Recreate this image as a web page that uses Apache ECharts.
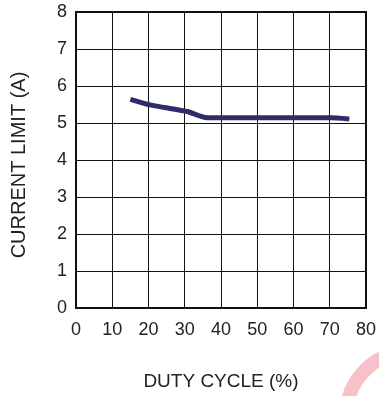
<!DOCTYPE html>
<html><head><meta charset="utf-8">
<script src="https://cdn.jsdelivr.net/npm/echarts@6/dist/echarts.min.js"></script>
<style>html,body{margin:0;padding:0;background:#fff}#c{width:379px;height:396px}</style>
</head><body><div id="c"></div>
<script>
const dutyCycle = [15, 20.4, 24.4, 30.7, 36.1, 45, 55, 65, 70.2, 75.4];
const currentLimit = [5.64, 5.49, 5.42, 5.31, 5.14, 5.14, 5.14, 5.14, 5.14, 5.11];
const xTicks = [0, 10, 20, 30, 40, 50, 60, 70, 80];
const yTicks = [0, 1, 2, 3, 4, 5, 6, 7, 8];

const chart = echarts.init(document.getElementById('c'), null, {renderer: 'canvas'});
const font = 'Liberation Sans, Arial, sans-serif';
chart.setOption({
  animation: false,
  grid: {left: 76, right: 6, top: 12, bottom: 88, show: true, borderColor: '#111', borderWidth: 2},
  xAxis: {
    type: 'value', min: xTicks[0], max: xTicks[xTicks.length - 1], interval: 10,
    name: 'DUTY CYCLE (%)', nameLocation: 'middle', nameGap: 64,
    nameTextStyle: {fontFamily: font, fontSize: 19, color: '#222'},
    axisLine: {show: false}, axisTick: {show: false},
    axisLabel: {fontFamily: font, fontSize: 18, color: '#222', margin: 13},
    splitLine: {show: true, lineStyle: {color: '#111', width: 1}}
  },
  yAxis: {
    type: 'value', min: yTicks[0], max: yTicks[yTicks.length - 1], interval: 1,
    name: 'CURRENT LIMIT (A)', nameLocation: 'middle', nameGap: 47,
    nameTextStyle: {fontFamily: font, fontSize: 20, color: '#222', padding: [0, 10, 0, 0]},
    axisLine: {show: false}, axisTick: {show: false},
    axisLabel: {fontFamily: font, fontSize: 18, color: '#222', margin: 9},
    splitLine: {show: true, lineStyle: {color: '#111', width: 1}}
  },
  graphic: [{
    type: 'circle', shape: {cx: 410, cy: 415, r: 63.5}, silent: true, z: -1,
    style: {fill: 'none', stroke: '#f7c1c7', lineWidth: 14}
  }],
  series: [{
    type: 'line', data: dutyCycle.map((x, i) => [x, currentLimit[i]]),
    showSymbol: false, smooth: 0.2,
    lineStyle: {color: '#2e2d68', width: 5, cap: 'butt'}
  }]
});
</script></body></html>
